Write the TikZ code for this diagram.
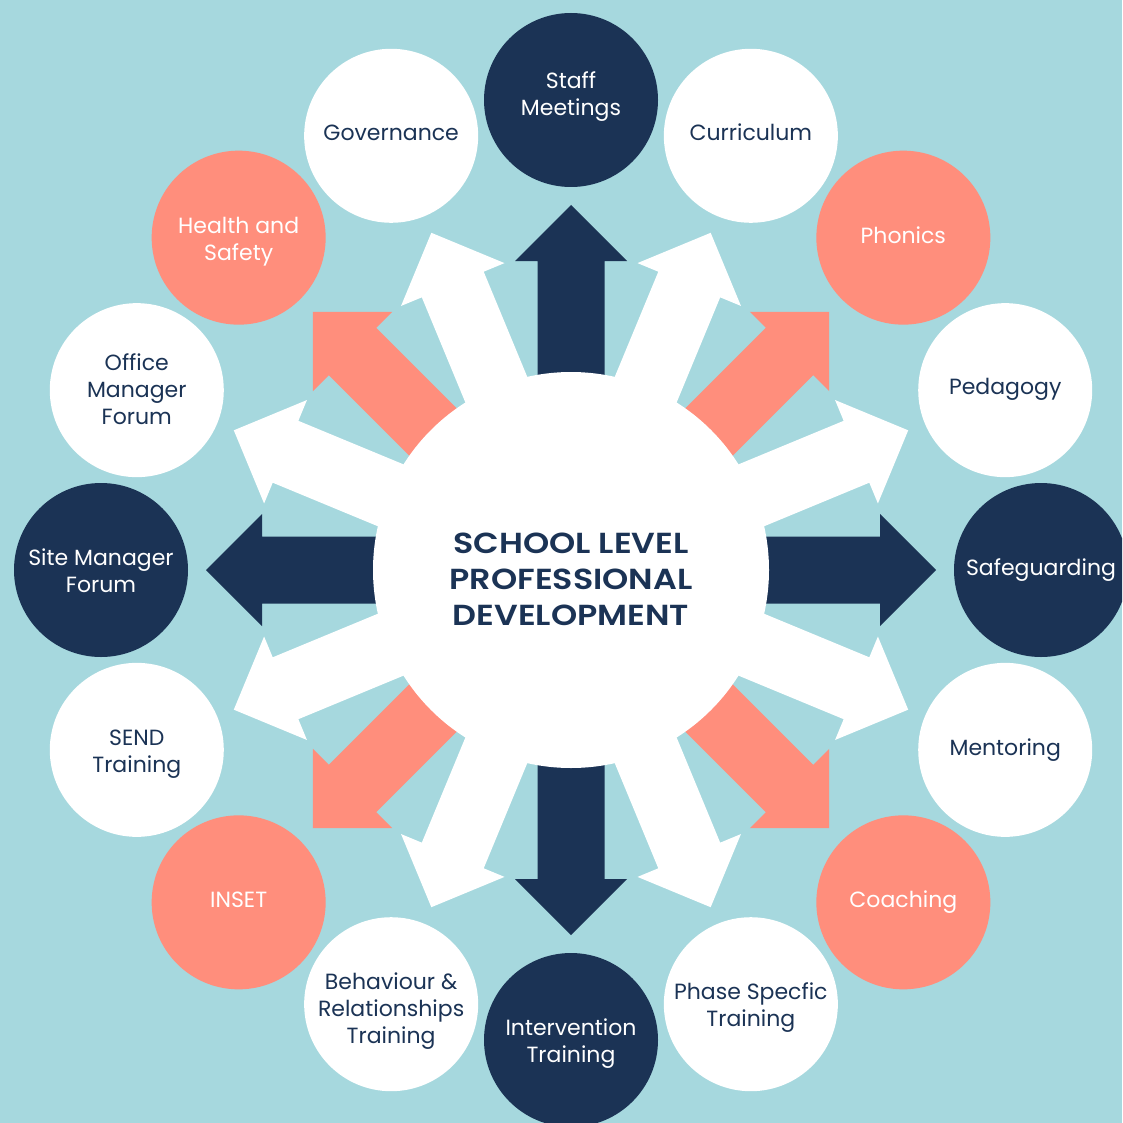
\documentclass[tikz,border=0pt]{standalone}
\usepackage{fontspec}
\setmainfont{Poppins}
\newfontfamily\titlefont{Poppins SemiBold}[FakeStretch=1.15]
\usetikzlibrary{calc}
\definecolor{bg}{HTML}{A6D8DE}
\definecolor{navy}{HTML}{1B3355}
\definecolor{salmon}{HTML}{FF8E7C}
\tikzset{
  ring/.style={circle, minimum size=174pt, inner sep=0pt},
  navyc/.style={ring, fill=navy},
  whitec/.style={ring, fill=white},
  salmonc/.style={ring, fill=salmon},
  lbl/.style={align=center, inner sep=0pt, font=\fontsize{22}{27}\selectfont},
  lw/.style={lbl, text=white},
  ln/.style={lbl, text=navy},
  bigarrow/.style={shift={(571,570)}, rotate=#1},
}
\newcommand\arrowpath{(0,-33.5) -- (309,-33.5) -- (309,-56) -- (365,0) -- (309,56) -- (309,33.5) -- (0,33.5) -- cycle}
\begin{document}
\begin{tikzpicture}[x=1pt,y=-1pt]
\useasboundingbox (0,0) rectangle (1122,1123);
\clip (0,0) rectangle (1122,1123);
\fill[bg] (0,0) rectangle (1122,1123);
% arrows
\foreach \a in {22.5,67.5,112.5,157.5,202.5,247.5,292.5,337.5}
  \fill[white, bigarrow=\a] \arrowpath;
\foreach \a in {45,135,225,315}
  \fill[salmon, bigarrow=\a] \arrowpath;
\foreach \a in {0,90,180,270}
  \fill[navy, bigarrow=\a] \arrowpath;
% centre
\node[circle, fill=white, minimum size=396pt, inner sep=0pt] (c) at (571,570) {};
\node[align=center, inner sep=0pt, text=navy, font=\titlefont\fontsize{29}{36}\selectfont]
      (title) at (571,579) {SCHOOL LEVEL\\PROFESSIONAL\\DEVELOPMENT};
% outer circles
\node[navyc]   (staff)  at ($(571,570)+(90:470pt)$)    {};
\node[whitec]  (curr)   at ($(571,570)+(67.5:470pt)$)  {};
\node[salmonc] (phon)   at ($(571,570)+(45:470pt)$)    {};
\node[whitec]  (peda)   at ($(571,570)+(22.5:470pt)$)  {};
\node[navyc]   (safe)   at ($(571,570)+(0:470pt)$)     {};
\node[whitec]  (ment)   at ($(571,570)+(-22.5:470pt)$) {};
\node[salmonc] (coach)  at ($(571,570)+(-45:470pt)$)   {};
\node[whitec]  (phase)  at ($(571,570)+(-67.5:470pt)$) {};
\node[navyc]   (inter)  at ($(571,570)+(-90:470pt)$)   {};
\node[whitec]  (behav)  at ($(571,570)+(-112.5:470pt)$) {};
\node[salmonc] (inset)  at ($(571,570)+(-135:470pt)$)  {};
\node[whitec]  (send)   at ($(571,570)+(-157.5:470pt)$) {};
\node[navyc]   (site)   at ($(571,570)+(180:470pt)$)   {};
\node[whitec]  (office) at ($(571,570)+(157.5:470pt)$) {};
\node[salmonc] (hs)     at ($(571,570)+(135:470pt)$)   {};
\node[whitec]  (gov)    at ($(571,570)+(112.5:470pt)$) {};
% labels
\node[lw] (staff-t)  at ([yshift=3pt]staff.center)   {Staff\\Meetings};
\node[ln] (curr-t)   at ([yshift=4pt]curr.center)    {Curriculum};
\node[lw] (phon-t)   at ([yshift=2pt]phon.center)    {Phonics};
\node[ln] (peda-t)   at ([yshift=1pt]peda.center)    {Pedagogy};
\node[lw] (safe-t)   at (safe.center)                {Safeguarding};
\node[ln] (ment-t)   at (ment.center)                {Mentoring};
\node[lw] (coach-t)  at (coach.center)               {Coaching};
\node[ln] (phase-t)  at ([yshift=-3pt]phase.center)  {Phase Specfic\\Training};
\node[lw] (inter-t)  at ([yshift=-4pt]inter.center)  {Intervention\\Training};
\node[ln] (behav-t)  at ([yshift=-7pt]behav.center)  {Behaviour \&\\Relationships\\Training};
\node[lw] (inset-t)  at ([yshift=3pt]inset.center)   {INSET};
\node[ln] (send-t)   at ([yshift=-4pt]send.center)   {SEND\\Training};
\node[lw] (site-t)   at ([yshift=-1pt]site.center)   {Site Manager\\Forum};
\node[ln] (office-t) at ([yshift=1pt]office.center)  {Office\\Manager\\Forum};
\node[lw] (hs-t)     at ([yshift=-4pt]hs.center)     {Health and\\Safety};
\node[ln] (gov-t)    at ([yshift=3pt]gov.center)     {Governance};
\end{tikzpicture}
\end{document}
